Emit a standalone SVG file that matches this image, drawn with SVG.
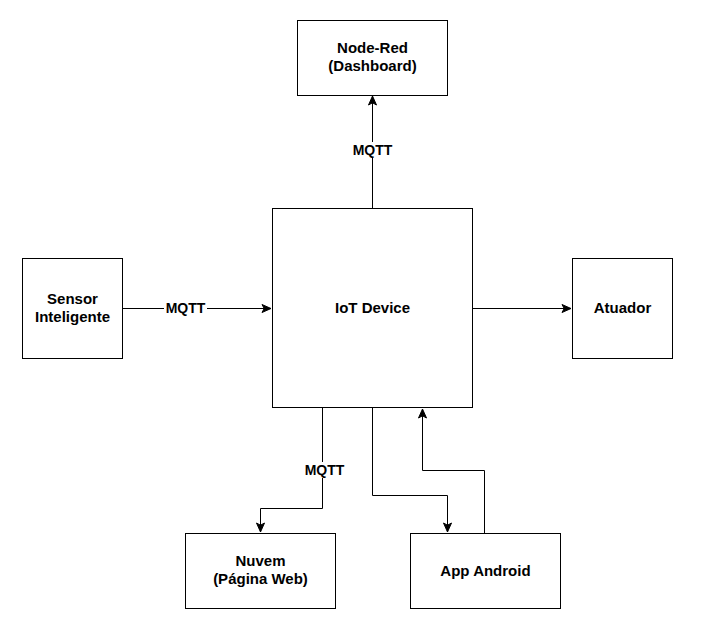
<svg xmlns="http://www.w3.org/2000/svg" width="702" height="627" viewBox="0 0 702 627">
<style>
.box{fill:#fff;stroke:#000;stroke-width:1}
.t{font-family:"Liberation Sans",Arial,sans-serif;font-size:15px;font-weight:bold;fill:#000;text-anchor:middle}
.m{font-family:"Liberation Sans",Arial,sans-serif;font-size:14px;font-weight:bold;fill:#000;text-anchor:middle}
.c{fill:none;stroke:#000;stroke-width:1}
.lb{fill:#fff}
</style>
<defs>
<marker id="a" markerUnits="userSpaceOnUse" markerWidth="11" markerHeight="11" viewBox="0 0 11 11" refX="10" refY="5.5" orient="auto">
<path d="M1,1.5 L10,5.5 L1,9.5 L3.2,5.5 Z" fill="#000" stroke="#000" stroke-width="1"/>
</marker>
</defs>
<rect width="702" height="627" fill="#fff"/>
<g id="connectors">
<path class="c" d="M372.5,208 V96" marker-end="url(#a)"/>
<path class="c" d="M122,308.5 H271" marker-end="url(#a)"/>
<path class="c" d="M472,308.5 H571" marker-end="url(#a)"/>
<path class="c" d="M322.5,408 V508.5 H260.5 V532" marker-end="url(#a)"/>
<path class="c" d="M372.5,408 V495.5 H447.5 V532" marker-end="url(#a)"/>
<path class="c" d="M484.5,533 V470.5 H422.5 V409" marker-end="url(#a)"/>
<rect class="lb" x="351" y="142" width="43" height="16"/>
<text class="m" x="372.5" y="155">MQTT</text>
<rect class="lb" x="164" y="300" width="43" height="16"/>
<text class="m" x="185.5" y="313">MQTT</text>
<rect class="lb" x="303" y="462" width="43" height="16"/>
<text class="m" x="324.5" y="475">MQTT</text>
</g>
<g id="node-red">
<rect class="box" x="297.5" y="20.5" width="150" height="75"/>
<text class="t" x="372.5" y="53">Node-Red</text>
<text class="t" x="372.5" y="71">(Dashboard)</text>
</g>
<g id="iot">
<rect class="box" x="272.5" y="208.5" width="200" height="199"/>
<text class="t" x="372.5" y="312.5">IoT Device</text>
</g>
<g id="sensor">
<rect class="box" x="22.5" y="258.5" width="100" height="100"/>
<text class="t" x="72.5" y="303.5">Sensor</text>
<text class="t" x="72.5" y="321.5">Inteligente</text>
</g>
<g id="atuador">
<rect class="box" x="572.5" y="258.5" width="100" height="100"/>
<text class="t" x="622.5" y="312.5">Atuador</text>
</g>
<g id="nuvem">
<rect class="box" x="185.5" y="533.5" width="150" height="75"/>
<text class="t" x="260.5" y="566">Nuvem</text>
<text class="t" x="260.5" y="584">(Página Web)</text>
</g>
<g id="app">
<rect class="box" x="410.5" y="533.5" width="150" height="75"/>
<text class="t" x="485.5" y="575.5">App Android</text>
</g>
</svg>
